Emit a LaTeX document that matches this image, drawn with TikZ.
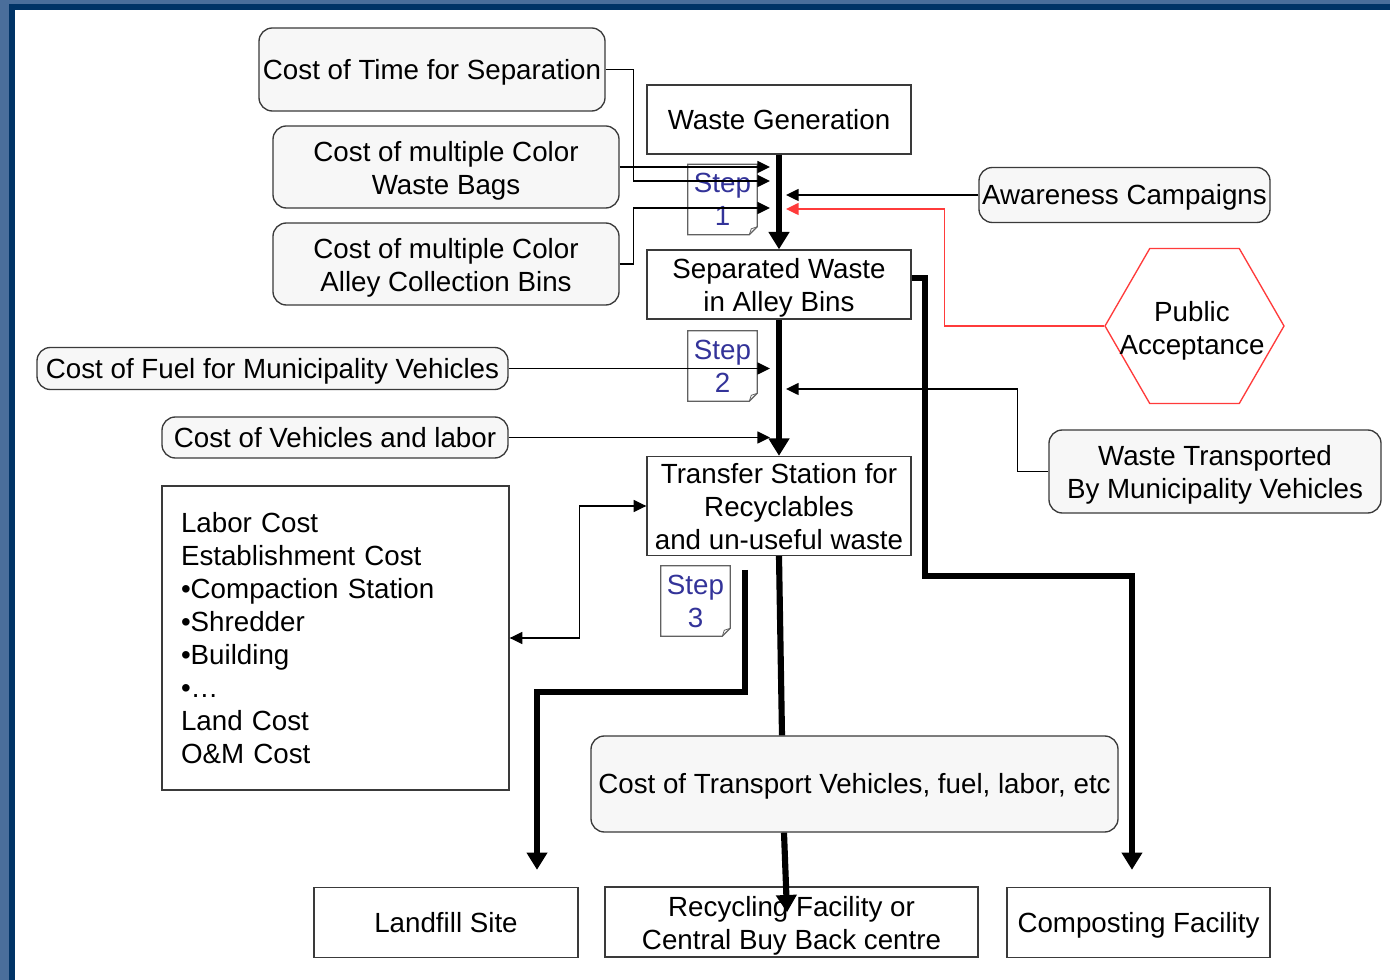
\documentclass[tikz,border=0pt]{standalone}
\usepackage{fontspec}
\setmainfont{Liberation Sans}
\usetikzlibrary{arrows.meta,calc,shapes.geometric}
\definecolor{bgblue}{HTML}{4A6E9B}
\definecolor{darkblue}{HTML}{003366}
\definecolor{stepblue}{HTML}{333399}
\definecolor{boxfill}{HTML}{F7F7F7}
\definecolor{edge}{HTML}{3A3A3A}
\definecolor{pared}{HTML}{FF3B3B}
\newcommand\mlines[1]{\raisebox{-3pt}[\height][\depth]{\begin{tabular}{@{}c@{}}#1\end{tabular}}}
\begin{document}
\begin{tikzpicture}[x=0.75pt,y=-0.75pt,
  every node/.style={font=\fontsize{20.8}{24.75}\selectfont, inner sep=0pt},
  sl/.style={execute at begin node={\vrule height 18.8pt depth 0pt width 0pt},
    execute at end node={\vrule height 0pt depth 4.4pt width 0pt}},
  rbox/.style={draw=edge, line width=1pt, fill=boxfill, rounded corners=10pt},
  sbox/.style={draw=edge, line width=1pt, fill=white},
  stepnote/.style={align=center, text=stepblue, minimum width=51.75pt, minimum height=52.5pt},
  noteline/.style={draw=edge!80, line width=0.9pt},
  arr/.style={draw=black, line width=1.1pt, -{Triangle[length=9.5pt,width=9pt]}},
  arrboth/.style={draw=black, line width=1.1pt, {Triangle[length=9.5pt,width=9pt]}-{Triangle[length=9.5pt,width=9pt]}},
  redarr/.style={draw=pared, line width=1.1pt, -{Triangle[length=9.5pt,width=9pt]}},
  bigarr/.style={line width=4.6pt, -{Triangle[length=13pt,width=15pt]}},
  bigline/.style={line width=4.6pt},
]
\useasboundingbox (0,0) rectangle (1390,980);
\fill[bgblue] (0,0) rectangle (1390,980);
\fill[darkblue] (9,4) rectangle (1390,980);
\fill[white] (15,10) rectangle (1390,980);

% nodes
\node[rbox, sl, minimum width=259.5pt, minimum height=62.25pt] (cts) at (432,69.5) {Cost of Time for Separation};
\node[rbox, minimum width=259.5pt, minimum height=61.5pt] (bags) at (446,167) {\mlines{Cost of multiple Color\\Waste Bags}};
\node[rbox, minimum width=259.5pt, minimum height=61.5pt] (bins) at (446,264) {\mlines{Cost of multiple Color\\Alley Collection Bins}};
\node[sbox, sl, minimum width=198pt, minimum height=51.75pt] (wg) at (779,119.5) {Waste Generation};
\node[rbox, sl, minimum width=218.25pt, minimum height=41.25pt] (aw) at (1124.5,195) {Awareness Campaigns};
\node[sbox, minimum width=198pt, minimum height=51.75pt] (sep) at (779,284.5) {\mlines{Separated Waste\\in Alley Bins}};
\node[draw=pared, line width=1pt, regular polygon, regular polygon sides=6, minimum size=134.25pt] (pa) at (1194.5,326) {};
\node (pat) at (1192,327.5) {\mlines{Public\\Acceptance}};
\node[rbox, sl, minimum width=353.25pt, minimum height=31.5pt] (fuel) at (272.5,368.5) {Cost of Fuel for Municipality Vehicles};
\node[rbox, sl, minimum width=259.5pt, minimum height=30.75pt] (veh) at (335,437.5) {Cost of Vehicles and labor};
\node[rbox, minimum width=249pt, minimum height=62.25pt] (wt) at (1215,471.5) {\mlines{Waste Transported\\By Municipality Vehicles}};
\node[sbox, minimum width=198pt, minimum height=72pt] (tr) at (779,506) {\mlines{Transfer Station for\\Recyclables\\and un-useful waste}};
\node[sbox, align=left, text width=231.75pt, inner xsep=14.25pt, minimum height=228pt] (list) at (335.5,638)
  {Labor Cost\\Establishment Cost\\•Compaction Station\\•Shredder\\•Building\\•…\\Land Cost\\O\&M Cost};
\node[rbox, sl, minimum width=395.25pt, minimum height=72pt] (tp) at (854.5,784) {Cost of Transport Vehicles, fuel, labor, etc};
\node[sbox, sl, minimum width=198pt, minimum height=52.5pt] (lf) at (446,922.5) {Landfill Site};
\node[sbox, minimum width=279.75pt, minimum height=52.5pt] (rec) at (791.5,922) {\mlines{Recycling Facility or\\Central Buy Back centre}};
\node[sbox, sl, minimum width=197.25pt, minimum height=52.5pt] (comp) at (1138.5,922.5) {Composting Facility};

% step notes
\foreach \n/\p/\k in {s1/{(722.5,199.5)}/1, s2/{(722.5,366)}/2, s3/{(695.5,601)}/3}{
  \node[stepnote] (\n) at \p {Step\\\k};
  \draw[noteline] (\n.north west) -- (\n.north east) -- ([yshift=6pt]\n.south east) -- ([xshift=-6pt]\n.south east) -- (\n.south west) -- cycle;
  \draw[noteline, line width=0.6pt] ([yshift=6pt]\n.south east) -- ([xshift=-4.5pt,yshift=4.5pt]\n.south east) -- ([xshift=-6pt]\n.south east);
}

% free ends
\coordinate (in0) at (770,167);
\coordinate (in1) at (770,181);
\coordinate (in2) at (770,208);
\coordinate (in3) at (786,195);
\coordinate (in4) at (786,209);
\coordinate (in5) at (770,368.5);
\coordinate (in6) at (786,389);
\coordinate (in7) at (770,437.5);
\coordinate (lstart) at (745,570);

% thick flow
\draw[bigarr] (wg.south) -- (sep.north);
\draw[bigarr] (sep.south) -- (tr.north);
\draw[bigarr] ([yshift=5pt]sep.east) -- ++(13,0) -- ++(0,298) -| ([xshift=-4.9pt,yshift=12.75pt]comp.north);
\draw[bigarr] (lstart) -- ++(0,122) -| ([xshift=68.25pt,yshift=12.75pt]lf.north);
\draw[bigline] (tr.south) -- ($(tr.south |- tp.north)+(3,0)$);
\draw[bigarr] ($(tr.south |- tp.south)+(5,0)$) -- ($(tr.south |- rec.north)+(8,26)$);

% thin inputs
\draw[arr] (cts.east) -- ++(28,0) |- (in1);
\draw[arr] (bags.east) -- (in0);
\draw[arr] (bins.east) -- ++(14,0) |- (in2);
\draw[arr] (aw.west) -- (in3);
\draw[redarr] (pa.west) -- ++(-160,0) |- (in4);
\draw[arr] (fuel.east) -- (in5);
\draw[arr] (wt.west) -- ++(-31,0) |- (in6);
\draw[arr] (veh.east) -- (in7);
\draw[arrboth] (list.east) -- ++(70,0) |- (tr.west);
\end{tikzpicture}
\end{document}
